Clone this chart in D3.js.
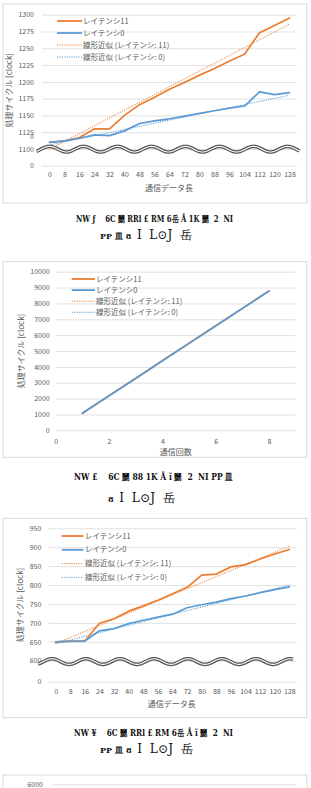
<!DOCTYPE html>
<html><head><meta charset="utf-8">
<script src="https://cdn.jsdelivr.net/npm/d3@7"></script>
<style>body{margin:0;background:#fff;} svg{display:block}</style>
</head><body>
<script>
// ---------- DATA ----------
const dataLength = [0,8,16,24,32,40,48,56,64,72,80,88,96,104,112,120,128];
const c1Lat11 = [1110,1112,1117,1130,1130,1150,1166,1177,1189,1199,1210,1220,1231,1241,1273,1284,1295];
const c1Lat0  = [1110,1112,1116,1121,1120,1127,1138,1142,1145,1149,1153,1157,1161,1164,1185,1181,1184];
const c1Trend11 = [1091,1286];
const c1Trend0  = [1106,1180];
const c1YTicks = [1100,1125,1150,1175,1200,1225,1250,1275,1300];
const c1StrayTick = 1117.5;   // stray "0" label under 1125

const commCount = [1,2,3,4,5,6,7,8];
const c2Lat11 = [1075,2180,3280,4385,5485,6590,7690,8790];
const c2Lat0  = [1070,2180,3270,4380,5480,6580,7680,8780];
const c2Trend11 = [1075,8790];
const c2Trend0  = [1070,8780];
const c2YTicks = [0,1000,2000,3000,4000,5000,6000,7000,8000,9000,10000];
const c2XTicks = [0,2,4,6,8];

const c3Lat11 = [650,652,652,699,711,731,745,760,777,794,826,829,848,854,869,882,894];
const c3Lat0  = [650,651,652,679,685,698,707,715,723,740,748,755,764,771,780,788,795];
const c3Trend11 = [645,903];
const c3Trend0  = [645,800];
const c3YTicks = [600,650,700,750,800,850,900,950];

const c4YTicks = [6000];

const legendLabels = ["レイテンシ11","レイテンシ0","線形近似 (レイテンシ: 11)","線形近似 (レイテンシ: 0)"];
const yTitle = "処理サイクル [clock]";
const xTitleLength = "通信データ長";
const xTitleCount = "通信回数";
const S = "\u00a0";
const captions = [
  [`NW${S}ƒ${S}${S}${S}${S}6C${S}嬲${S}RRl${S}£${S}RM${S}6岳${S}Å${S}1K${S}嬲${S}${S}2${S}${S}NI`, `PP${S}皿${S}8${S}${S}`, `I${S}${S}L⊙J${S}${S}岳`],
  [`NW${S}£${S}${S}${S}${S}6C${S}嬲${S}88${S}1K${S}Å${S}ǐ${S}嬲${S}${S}2${S}${S}NI${S}PP${S}皿`, `8${S}${S}`, `I${S}${S}L⊙J${S}${S}岳`],
  [`NW${S}¥${S}${S}${S}${S}6C${S}嬲${S}RRl${S}£${S}RM${S}6岳${S}Å${S}ǐ${S}嬲${S}${S}2${S}${S}NI`, `PP${S}皿${S}8${S}${S}`, `I${S}${S}L⊙J${S}${S}岳`]
];

// ---------- DRAW ----------
const W = 311, H = 788;
const ORANGE = '#ED7D31', BLUE = '#5B9BD5', GRID = '#d9d9d9', TXT = '#595959';
const FONT = '"Noto Sans CJK JP", "Noto Sans", sans-serif';
const svg = d3.select('body').append('svg').attr('width', W).attr('height', H)
  .style('font-family', FONT);

function drawWave(g, x0, x1, cy, amp, period, crestX) {
  const pts = d3.range(x0, x1 + 0.01, 0.5).map(x => [x, cy - amp * Math.cos(2 * Math.PI * (x - crestX) / period)]);
  const line = d3.line();
  g.append('path').attr('d', line(pts)).attr('fill', 'none').attr('stroke', '#555').attr('stroke-width', 3.6);
  g.append('path').attr('d', line(pts)).attr('fill', 'none').attr('stroke', '#fff').attr('stroke-width', 1.1);
}

function drawLegend(g, lx0, lx1, tx, y0, step, fs) {
  const styles = [
    {c: ORANGE, w: 1.8, dash: null},
    {c: BLUE, w: 1.8, dash: null},
    {c: ORANGE, w: 1, dash: '1.2,1.2'},
    {c: BLUE, w: 1, dash: '1.2,1.2'}
  ];
  legendLabels.forEach((t, i) => {
    const y = y0 + i * step;
    g.append('line').attr('x1', lx0).attr('x2', lx1).attr('y1', y).attr('y2', y)
      .attr('stroke', styles[i].c).attr('stroke-width', styles[i].w)
      .attr('stroke-dasharray', styles[i].dash);
    g.append('text').attr('x', tx).attr('y', y).attr('dy', '0.35em')
      .attr('font-size', fs).attr('fill', TXT).text(t);
  });
}

function drawCaption(lines, cx1, y1, len1, cx2, y2, len2) {
  const g = svg.append('g').style('font-family', '"DejaVu Serif", serif').attr('font-weight', 'bold').attr('fill', '#111');
  g.append('text').attr('x', cx1).attr('y', y1).attr('dy', '0.35em').attr('text-anchor', 'middle')
    .attr('font-size', 9).attr('textLength', len1).attr('lengthAdjust', 'spacingAndGlyphs').text(lines[0]);
  const t = g.append('text').attr('x', cx2).attr('y', y2).attr('dy', '0.35em').attr('text-anchor', 'middle')
    .attr('textLength', len2).attr('lengthAdjust', 'spacingAndGlyphs');
  t.append('tspan').attr('font-size', 8).text(lines[1]);
  t.append('tspan').attr('font-size', 12).attr('font-weight', 'normal').text(lines[2]);
}

function drawChart(cfg) {
  const g = svg.append('g');
  const [fx0, fy0, fx1, fy1] = cfg.frame;
  g.append('rect').attr('x', fx0).attr('y', fy0).attr('width', fx1 - fx0).attr('height', fy1 - fy0)
    .attr('fill', '#fff').attr('stroke', GRID).attr('stroke-width', 1);

  const y = cfg.y, x = cfg.x;
  const [gx0, gx1] = cfg.gridX;
  const ya = g.append('g').attr('transform', `translate(${gx0},0)`)
    .call(d3.axisLeft(y).tickValues(cfg.yTicks).tickSize(-(gx1 - gx0)).tickPadding(cfg.yPad)
      .tickFormat(d => String(d)));
  ya.select('.domain').remove();
  ya.selectAll('line').attr('stroke', GRID).attr('stroke-width', 0.8);
  ya.selectAll('text').attr('fill', TXT).attr('font-size', cfg.tickFs).style('font-family', FONT);
  if (cfg.extraLabels) {
    cfg.extraLabels.forEach(e => {
      g.append('text').attr('x', gx0 - cfg.yPad).attr('y', y(e.v)).attr('dy', '0.32em')
        .attr('text-anchor', 'end').attr('fill', TXT).attr('font-size', cfg.tickFs).text(e.t);
    });
  }
  if (cfg.wave) drawWave(g, cfg.wave.x0, cfg.wave.x1, y(cfg.wave.v), cfg.wave.amp, cfg.wave.period, cfg.wave.crest);

  if (x) {
    const xa = g.append('g').attr('transform', `translate(0,${cfg.xLabelY})`)
      .call(d3.axisBottom(x).tickValues(cfg.xTicks).tickSize(0).tickPadding(0).tickFormat(d => String(d)));
    xa.select('.domain').remove();
    xa.selectAll('text').attr('y', 0).attr('dy', '0.35em').attr('fill', TXT)
      .attr('font-size', cfg.tickFs).style('font-family', FONT);
    g.append('text').attr('x', cfg.xTitle[1]).attr('y', cfg.xTitle[2]).attr('dy', '0.35em')
      .attr('text-anchor', 'middle').attr('font-size', 8).attr('fill', TXT).text(cfg.xTitle[0]);
  }
  if (cfg.yTitleX) {
    const r = y.range();
    g.append('text').attr('transform', `translate(${cfg.yTitleX},${(r[0] + r[r.length - 1]) / 2}) rotate(-90)`)
      .attr('dy', '0.35em').attr('text-anchor', 'middle').attr('font-size', 8).attr('fill', TXT).text(yTitle);
  }
  if (cfg.series) {
    const xs = cfg.xs;
    cfg.trends.forEach((tr, i) => {
      g.append('line').attr('x1', x(xs[0])).attr('x2', x(xs[xs.length - 1]))
        .attr('y1', y(tr[0])).attr('y2', y(tr[1]))
        .attr('stroke', i === 0 ? ORANGE : BLUE).attr('stroke-width', 1).attr('stroke-dasharray', '1.2,1.2');
    });
    const line = d3.line().x((d, i) => x(xs[i])).y(d => y(d));
    cfg.series.forEach((s, i) => {
      g.append('path').attr('d', line(s)).attr('fill', 'none')
        .attr('stroke', i === 0 ? ORANGE : BLUE).attr('stroke-width', 1.7)
        .attr('stroke-linejoin', 'round').attr('stroke-linecap', 'round');
    });
  }
  if (cfg.legend) drawLegend(g, ...cfg.legend);
}

// Chart 1
drawChart({
  frame: [3, 4, 307, 203],
  y: d3.scaleLinear().domain([0, 1100, 1300]).range([165.7, 149, 14.7]),
  x: d3.scalePoint().domain(dataLength).range([42, 297]).padding(0.5),
  gridX: [42, 297], yTicks: [0].concat(c1YTicks), yPad: 8, tickFs: 7,
  extraLabels: [{v: c1StrayTick, t: '0'}],
  wave: {x0: 36.5, x1: 299.5, v: 1086, amp: 2.8, period: 34, crest: 49.5},
  xTicks: dataLength, xLabelY: 174.3, xTitle: [xTitleLength, 169, 187.7],
  yTitleX: 9,
  xs: dataLength, series: [c1Lat11, c1Lat0], trends: [c1Trend11, c1Trend0],
  legend: [57, 82, 83, 21, 12, 7.5]
});
drawCaption(captions[0], 154.5, 219.3, 157, 146, 233.3, 92);

// Chart 2
drawChart({
  frame: [3, 261.7, 307, 457.3],
  y: d3.scaleLinear().domain([0, 10000]).range([430.3, 271.7]),
  x: d3.scaleLinear().domain([0, 9]).range([55.7, 295.7]),
  gridX: [55.7, 295.7], yTicks: c2YTicks, yPad: 6, tickFs: 7,
  xTicks: c2XTicks, xLabelY: 441.7, xTitle: [xTitleCount, 175.7, 451.7],
  yTitleX: 21,
  xs: commCount, series: [c2Lat11, c2Lat0], trends: [c2Trend11, c2Trend0],
  legend: [71.7, 95, 96, 279, 11.1, 7.5]
});
drawCaption(captions[1], 153.5, 477.3, 159, 141.5, 496.7, 67);

// Chart 3
drawChart({
  frame: [3, 518.3, 307, 717.7],
  y: d3.scaleLinear().domain([0, 600, 950]).range([681.7, 660.7, 528.3]),
  x: d3.scalePoint().domain(dataLength).range([48.3, 296.7]).padding(0.5),
  gridX: [48.3, 296.7], yTicks: [0].concat(c3YTicks), yPad: 7, tickFs: 7,
  wave: {x0: 38, x1: 293, v: 575, amp: 2.8, period: 34, crest: 52},
  xTicks: dataLength, xLabelY: 691.7, xTitle: [xTitleLength, 171.7, 704],
  yTitleX: 20,
  xs: dataLength, series: [c3Lat11, c3Lat0], trends: [c3Trend11, c3Trend0],
  legend: [61.7, 83.3, 85, 536, 13.8, 7.5]
});
drawCaption(captions[2], 153.5, 733.3, 159, 146.5, 747.7, 93);

// Chart 4 (partially visible)
drawChart({
  frame: [3, 775, 307, 900],
  y: d3.scaleLinear().domain([0, 6000]).range([1000, 784.3]),
  gridX: [52, 296], yTicks: c4YTicks, yPad: 9, tickFs: 7,
  legend: [70, 92, 93, 793, 12, 7.5]
});
</script>
</body></html>
